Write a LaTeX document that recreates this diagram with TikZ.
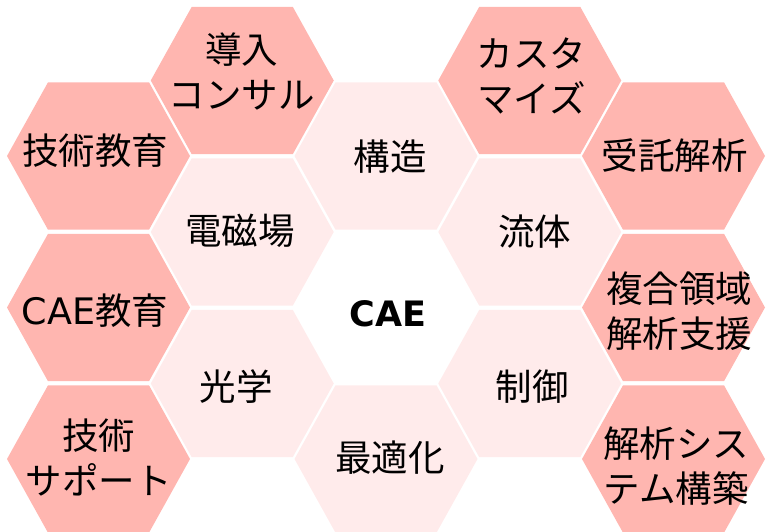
\documentclass[tikz,border=0pt]{standalone}
\usepackage{fontspec}
\newfontfamily\jpf{Noto Sans CJK JP}
\newfontfamily\latf{DejaVu Sans}
\definecolor{darkpk}{HTML}{FFB6B0}
\definecolor{lightpk}{HTML}{FFEBEB}
\newcommand\hexcell[3]{\fill[#3] (#1-91.5,#2) -- (#1-50.5,#2-73.7) -- (#1+50.5,#2-73.7) -- (#1+91.5,#2) -- (#1+50.5,#2+73.7) -- (#1-50.5,#2+73.7) -- cycle;}
\begin{document}
\begin{tikzpicture}[x=1pt,y=-1pt,
  lbl/.style={inner sep=0pt, align=center, text=black, font=\jpf\fontsize{36.5}{45}\selectfont}]
\useasboundingbox (0,0) rectangle (767,531);
\clip (0,0) rectangle (767,531);
% outer (dark) cells
\hexcell{242.25}{80.5}{darkpk}
\hexcell{98.5}{156}{darkpk}
\hexcell{98.5}{307.5}{darkpk}
\hexcell{98.5}{459}{darkpk}
\hexcell{529.75}{80.5}{darkpk}
\hexcell{673.5}{156}{darkpk}
\hexcell{673.5}{307.5}{darkpk}
\hexcell{673.5}{459}{darkpk}
% inner (light) cells
\hexcell{386}{156}{lightpk}
\hexcell{242.25}{232}{lightpk}
\hexcell{242.25}{383.5}{lightpk}
\hexcell{529.75}{232}{lightpk}
\hexcell{529.75}{383.5}{lightpk}
\hexcell{386}{459}{lightpk}
\hexcell{386}{307.5}{white}
% labels
\node[lbl] (t1) at (241.5,71.5) {導入\\コンサル};
\node[lbl] (t2) at (95,151) {技術教育};
\node[lbl] (t3) at (95,311) {{\latf CAE}教育};
\node[lbl] (t4) at (98.5,457.5) {技術\\サポート};
\node[lbl] (t5) at (240,231) {電磁場};
\node[lbl] (t6) at (236,387) {光学};
\node[lbl] (t7) at (390,157) {構造};
\node[lbl, font=\latf\bfseries\fontsize{35}{42}\selectfont] (t8) at (388,313.5) {CAE};
\node[lbl] (t9) at (390,457.5) {最適化};
\node[lbl] (t10) at (531.5,76) {カスタ\\マイズ};
\node[lbl] (t11) at (534.5,232) {流体};
\node[lbl] (t12) at (532,387) {制御};
\node[lbl] (t13) at (674.5,156) {受託解析};
\node[lbl] (t14) at (679,311.5) {複合領域\\解析支援};
\node[lbl] (t15) at (676,466.5) {解析シス\\テム構築};
\end{tikzpicture}
\end{document}
